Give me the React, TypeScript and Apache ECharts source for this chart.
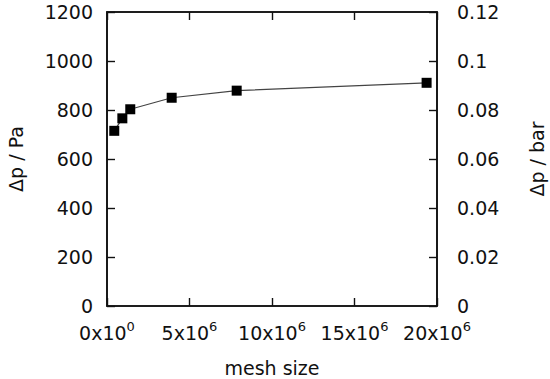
import React, { useEffect, useRef } from "react";
import * as echarts from "echarts";

const meshSize = [0.44e6, 0.93e6, 1.41e6, 3.92e6, 7.86e6, 19.37e6];
const pressurePa = [715, 766, 803, 850, 879, 911];
const xTicks = [0, 5e6, 10e6, 15e6, 20e6];
const leftTicks = [0, 200, 400, 600, 800, 1000, 1200];
const rightTicks = [0, 0.02, 0.04, 0.06, 0.08, 0.1, 0.12];

const FONT = "DejaVu Sans";
const TXT = "#111";
const FS = 19;
const AX = "#111";

export default function App() {
  const ref = useRef<HTMLDivElement>(null);
  useEffect(() => {
    if (!ref.current) return;
    const chart = echarts.init(ref.current, null, { renderer: "svg" });
    const mkLine = () => ({ show: true, onZero: false, lineStyle: { color: AX, width: 1.6 } });
    const mkTick = () => ({ show: true, inside: true, length: 8, lineStyle: { color: AX, width: 1.4 } });
    chart.setOption({
      animation: false,
      textStyle: { fontFamily: FONT },
      grid: {
        left: 107,
        right: 113,
        top: 12,
        bottom: 73,
        containLabel: false,
        outerBoundsMode: "none",
        show: true,
        borderColor: AX,
        borderWidth: 1.6,
      },
      xAxis: [
        {
          type: "value",
          min: xTicks[0],
          max: xTicks[xTicks.length - 1],
          interval: 5e6,
          position: "bottom",
          axisLine: mkLine(),
          axisTick: mkTick(),
          splitLine: { show: false },
          name: "mesh size",
          nameLocation: "middle",
          nameGap: 52,
          nameTextStyle: { fontFamily: FONT, fontSize: FS, color: TXT },
          axisLabel: {
            margin: 14,
            fontFamily: FONT,
            fontSize: FS,
            color: TXT,
            formatter: (v: number) =>
              v === 0 ? "0x10{sup|0}" : `${Math.round(v / 1e6)}x10{sup|6}`,
            rich: {
              sup: { fontFamily: FONT, fontSize: 13, color: TXT, padding: [0, 0, 12, 0] },
            },
          },
        },
        {
          type: "value",
          min: xTicks[0],
          max: xTicks[xTicks.length - 1],
          interval: 5e6,
          position: "top",
          axisLine: mkLine(),
          axisTick: mkTick(),
          splitLine: { show: false },
          axisLabel: { show: false },
        },
      ],
      yAxis: [
        {
          type: "value",
          min: leftTicks[0],
          max: leftTicks[leftTicks.length - 1],
          interval: 200,
          position: "left",
          axisLine: mkLine(),
          axisTick: mkTick(),
          splitLine: { show: false },
          name: "Δp / Pa",
          nameLocation: "middle",
          nameRotate: 90,
          nameGap: 82,
          nameTextStyle: { fontFamily: FONT, fontSize: FS, color: TXT },
          axisLabel: {
            margin: 14,
            fontFamily: FONT,
            fontSize: FS,
            color: TXT,
            formatter: (v: number) => String(v),
          },
        },
        {
          type: "value",
          min: rightTicks[0],
          max: rightTicks[rightTicks.length - 1],
          interval: 0.02,
          position: "right",
          axisLine: mkLine(),
          axisTick: mkTick(),
          splitLine: { show: false },
          name: "Δp / bar",
          nameLocation: "middle",
          nameRotate: 90,
          nameGap: 90,
          nameTextStyle: { fontFamily: FONT, fontSize: FS, color: TXT },
          axisLabel: {
            margin: 20,
            fontFamily: FONT,
            fontSize: FS,
            color: TXT,
            formatter: (v: number) => String(Number(v.toFixed(2))),
          },
        },
      ],
      series: [
        {
          type: "line",
          xAxisIndex: 0,
          yAxisIndex: 0,
          data: meshSize.map((x, i) => [x, pressurePa[i]]),
          symbol: "rect",
          symbolSize: 10,
          itemStyle: { color: "#000" },
          lineStyle: { color: "#444", width: 1.2 },
        },
      ],
    });
    return () => chart.dispose();
  }, []);
  return <div ref={ref} style={{ width: 550, height: 379, position: "absolute", left: 0, top: 0 }} />;
}
